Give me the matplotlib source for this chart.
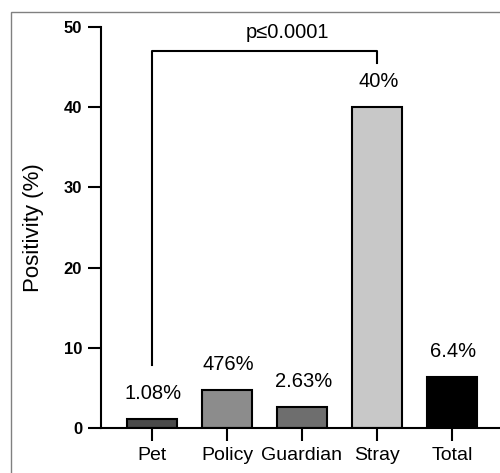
import matplotlib.pyplot as plt
from matplotlib.patches import Rectangle

plt.rcParams['font.family'] = ['Liberation Sans', 'DejaVu Sans']

# Datos
grupos = ['Pet', 'Policy', 'Guardian', 'Stray', 'Total']
positividad = [1.08, 4.76, 2.63, 40, 6.4]
etiquetas = ['1.08%', '476%', '2.63%', '40%', '6.4%']
colores = ['#4a4a4a', '#8c8c8c', '#6e6e6e', '#c8c8c8', '#000000']

fig = plt.figure(figsize=(5, 4.73), dpi=100)
ax = fig.add_axes([101 / 500, 45 / 473, 399 / 500, 401 / 473])

x = range(len(grupos))
ax.bar(x, positividad, width=0.66, color=colores, edgecolor='black', linewidth=1.5)

for xi, v, t in zip(x, positividad, etiquetas):
    ax.text(xi + 0.02, v + 2.0, t, ha='center', va='bottom', fontsize=14.5)

# Corchete de significancia entre Pet y Stray
ax.plot([0, 0, 3, 3], [7.9, 47.0, 47.0, 45.5], color='black', linewidth=1.5)
ax.text(1.8, 48.1, 'p≤0.0001', ha='center', va='bottom', fontsize=14.5,
        family=['Liberation Sans', 'DejaVu Sans'])

ax.set_xlim(-0.68, 4.64)
ax.set_ylim(0, 50)
ax.set_yticks([0, 10, 20, 30, 40, 50])
ax.set_xticks(list(x))
ax.set_xticklabels(grupos, fontsize=14)
for lbl in ax.get_yticklabels():
    lbl.set_fontweight('bold')
    lbl.set_fontsize(12)
ax.set_ylabel('Positivity (%)', fontsize=16, labelpad=14)

ax.spines['top'].set_visible(False)
ax.spines['right'].set_visible(False)
ax.spines['left'].set_linewidth(1.5)
ax.spines['bottom'].set_linewidth(1.5)
ax.tick_params(axis='both', width=1.5, length=9.5)
ax.tick_params(axis='y', pad=4)
ax.tick_params(axis='x', pad=4)

# Marco gris de la figura
fig.patches.append(Rectangle((11 / 500, -0.1), 1.2, 1 - 12 / 473 + 0.1,
                             transform=fig.transFigure, fill=False,
                             edgecolor='#808080', linewidth=1))

fig.savefig('out.png', dpi=100)
